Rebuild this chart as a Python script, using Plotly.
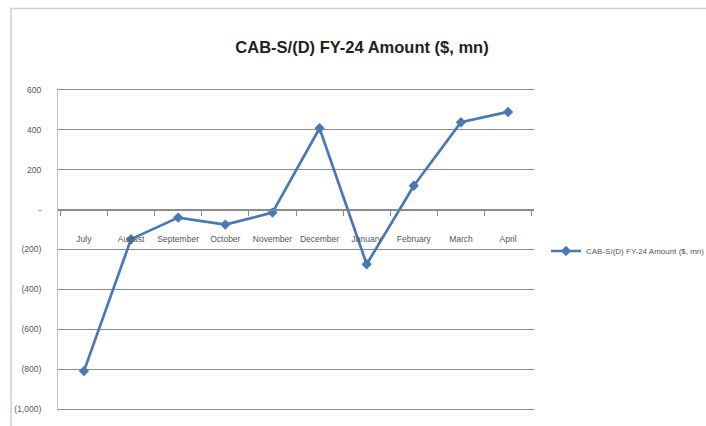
import plotly.graph_objects as go

months = ["July", "August", "September", "October", "November", "December",
          "January", "February", "March", "April"]
values = [-810, -148, -40, -75, -15, 408, -274, 120, 438, 490]
series_name = "CAB-S/(D) FY-24 Amount ($, mn)"
ytick_vals = [600, 400, 200, 0, -200, -400, -600, -800, -1000]
ytick_text = ["600", "400", "200", "-", "(200)", "(400)", "(600)", "(800)", "(1,000)"]

W, H = 706, 426
L, R, T, B = 58, 534, 88, 413
FONT = "Liberation Sans, Arial, sans-serif"

fig = go.Figure()
fig.add_trace(go.Scatter(
    x=months, y=values, mode="lines+markers", name=series_name,
    line=dict(color="#4A78B4", width=2.7),
    marker=dict(symbol="diamond", size=8, color="#4A78B4"),
))

ymin, ymax = -1010, 610
fig.update_layout(
    width=W, height=H,
    margin=dict(l=L, r=W - R, t=T, b=H - B, pad=0),
    paper_bgcolor="white", plot_bgcolor="white",
    font=dict(family=FONT, color="#555555"),
    title=dict(text="<b>CAB-S/(D) FY-24 Amount ($, mn)</b>", x=362 / W, xanchor="center",
               y=1 - 47 / H, yanchor="middle",
               font=dict(size=16.5, color="#222222", family=FONT)),
    showlegend=True,
    legend=dict(xref="container", yref="container",
                x=546 / W, xanchor="left", y=1 - 251 / H, yanchor="middle",
                font=dict(size=8, color="#555555"), bgcolor="rgba(0,0,0,0)",
                itemwidth=30),
    xaxis=dict(
        type="category", anchor="free", position=(0 - ymin) / (ymax - ymin),
        range=[-0.55, len(months) - 1 + 0.55],
        showline=True, linecolor="#8a8a8a", linewidth=1,
        ticks="outside", tickson="boundaries", ticklen=5, tickcolor="#8a8a8a",
        showgrid=False, tickfont=dict(size=8.5, color="#555555"),
        tickangle=0, ticklabelstandoff=21,
    ),
    yaxis=dict(
        range=[ymin, ymax], tickvals=ytick_vals, ticktext=ytick_text,
        showgrid=True, gridcolor="#8c8c8c", gridwidth=1,
        showline=True, linecolor="#c0c0c0", zeroline=False,
        tickfont=dict(size=8.5, color="#555555"), ticks="", ticklabelstandoff=14,
    ),
    shapes=[dict(type="rect", xref="paper", yref="paper",
                 x0=(11 - L) / (R - L), x1=(W + 5 - L) / (R - L),
                 y0=(B - (H + 5)) / (B - T), y1=(B - 8) / (B - T),
                 line=dict(color="#d0d0d0", width=1.5), layer="below")],
)

fig.write_html("out.html", config={"displayModeBar": False},
               post_script="document.body.style.margin='0';")
